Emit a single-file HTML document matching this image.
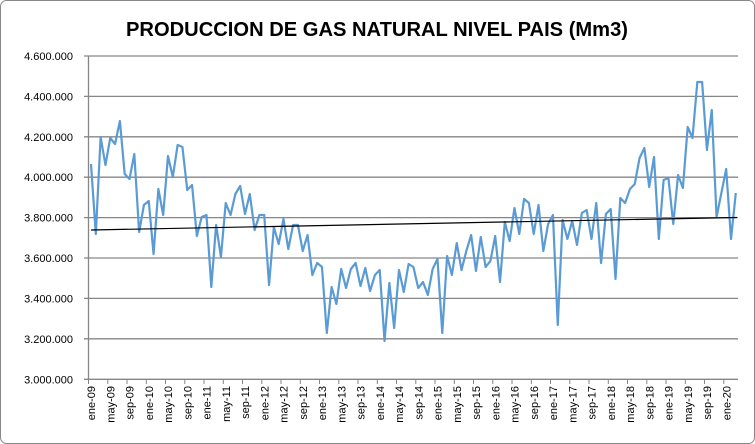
<!DOCTYPE html>
<html><head><meta charset="utf-8"><style>
html,body{margin:0;padding:0;background:#fff}
svg{display:block;font-family:"Liberation Sans",sans-serif}
</style></head><body>
<svg width="755" height="444" viewBox="0 0 755 444" xmlns="http://www.w3.org/2000/svg">
<rect x="0.5" y="0.5" width="754" height="443" rx="6" fill="#fff" stroke="#888"/>
<text x="377" y="36" text-anchor="middle" font-size="20" font-weight="bold" textLength="502" lengthAdjust="spacingAndGlyphs">PRODUCCION DE GAS NATURAL NIVEL PAIS (Mm3)</text>
<g stroke="#868686" stroke-width="1.3">
<line x1="84" y1="56" x2="738" y2="56"/><line x1="84" y1="96.4" x2="738" y2="96.4"/>
<line x1="84" y1="136.8" x2="738" y2="136.8"/><line x1="84" y1="177.2" x2="738" y2="177.2"/>
<line x1="84" y1="217.6" x2="738" y2="217.6"/><line x1="84" y1="258" x2="738" y2="258"/>
<line x1="84" y1="298.4" x2="738" y2="298.4"/><line x1="84" y1="338.8" x2="738" y2="338.8"/>
<line x1="84" y1="379.3" x2="738" y2="379.3"/>
<line x1="88.5" y1="56" x2="88.5" y2="379.3"/>
</g>
<g font-size="11" text-anchor="end" fill="#000">
<text x="73" y="60">4.600.000</text><text x="73" y="100.4">4.400.000</text>
<text x="73" y="140.8">4.200.000</text><text x="73" y="181.2">4.000.000</text>
<text x="73" y="221.6">3.800.000</text><text x="73" y="262">3.600.000</text>
<text x="73" y="302.4">3.400.000</text><text x="73" y="342.8">3.200.000</text>
<text x="73" y="383.3">3.000.000</text>
</g>
<g stroke="#868686" stroke-width="1">
<path d="M88.5 379v5M107.8 379v5M127 379v5M146.3 379v5M165.5 379v5M184.8 379v5M204 379v5M223.3 379v5M242.5 379v5M261.8 379v5M281 379v5M300.3 379v5M319.5 379v5M338.8 379v5M358 379v5M377.3 379v5M396.5 379v5M415.8 379v5M435 379v5M454.3 379v5M473.5 379v5M492.8 379v5M512 379v5M531.3 379v5M550.5 379v5M569.8 379v5M589 379v5M608.3 379v5M627.5 379v5M646.8 379v5M666 379v5M685.3 379v5M704.5 379v5M723.8 379v5"/>
</g>
<g font-size="11" text-anchor="end">
<text transform="translate(95,386) rotate(-90)">ene-09</text>
<text transform="translate(114.3,386) rotate(-90)">may-09</text>
<text transform="translate(133.5,386) rotate(-90)">sep-09</text>
<text transform="translate(152.8,386) rotate(-90)">ene-10</text>
<text transform="translate(172,386) rotate(-90)">may-10</text>
<text transform="translate(191.3,386) rotate(-90)">sep-10</text>
<text transform="translate(210.5,386) rotate(-90)">ene-11</text>
<text transform="translate(229.8,386) rotate(-90)">may-11</text>
<text transform="translate(249,386) rotate(-90)">sep-11</text>
<text transform="translate(268.3,386) rotate(-90)">ene-12</text>
<text transform="translate(287.5,386) rotate(-90)">may-12</text>
<text transform="translate(306.8,386) rotate(-90)">sep-12</text>
<text transform="translate(326,386) rotate(-90)">ene-13</text>
<text transform="translate(345.3,386) rotate(-90)">may-13</text>
<text transform="translate(364.5,386) rotate(-90)">sep-13</text>
<text transform="translate(383.8,386) rotate(-90)">ene-14</text>
<text transform="translate(403,386) rotate(-90)">may-14</text>
<text transform="translate(422.3,386) rotate(-90)">sep-14</text>
<text transform="translate(441.5,386) rotate(-90)">ene-15</text>
<text transform="translate(460.8,386) rotate(-90)">may-15</text>
<text transform="translate(480,386) rotate(-90)">sep-15</text>
<text transform="translate(499.3,386) rotate(-90)">ene-16</text>
<text transform="translate(518.5,386) rotate(-90)">may-16</text>
<text transform="translate(537.8,386) rotate(-90)">sep-16</text>
<text transform="translate(557,386) rotate(-90)">ene-17</text>
<text transform="translate(576.3,386) rotate(-90)">may-17</text>
<text transform="translate(595.5,386) rotate(-90)">sep-17</text>
<text transform="translate(614.8,386) rotate(-90)">ene-18</text>
<text transform="translate(634,386) rotate(-90)">may-18</text>
<text transform="translate(653.3,386) rotate(-90)">sep-18</text>
<text transform="translate(672.5,386) rotate(-90)">ene-19</text>
<text transform="translate(691.8,386) rotate(-90)">may-19</text>
<text transform="translate(711,386) rotate(-90)">sep-19</text>
<text transform="translate(730.3,386) rotate(-90)">ene-20</text>
</g>
<polyline transform="translate(91,0) scale(4.812,1)" vector-effect="non-scaling-stroke" fill="none" stroke="#5B9BD5" stroke-width="2.2" stroke-linejoin="round" points="0,164 1,234 2,137 3,165 4,138 5,144 6,121 7,174 8,179 9,154 10,232 11,205 12,201 13,254 14,189 15,215 16,156 17,177 18,145 19,147 20,190 21,185 22,236 23,217 24,215 25,287 26,225 27,257 28,203 29,215 30,194 31,186 32,214 33,194 34,230 35,215 36,215 37,285 38,227 39,244 40,219 41,249 42,225 43,225 44,251 45,235 46,275 47,263 48,267 49,333 50,287 51,304 52,269 53,288 54,269 55,263 56,286 57,268 58,291 59,275 60,270 61,341 62,283 63,328 64,270 65,292 66,264 67,267 68,288 69,282 70,295 71,269 72,259 73,333 74,256 75,275 76,243 77,270 78,251 79,235 80,271 81,237 82,267 83,261 84,236 85,282 86,222 87,241 88,208 89,234 90,199 91,203 92,234 93,205 94,251 95,224 96,215 97,325 98,220 99,239 100,221 101,245 102,213 103,210 104,239 105,203 106,263 107,214 108,209 109,279 110,198 111,203 112,189 113,184 114,158 115,148 116,187 117,157 118,239 119,180 120,178 121,224 122,175 123,188 124,127 125,138 126,82 127,82 128,150 129,110 130,217 131,193 132,169 133,239 134,193"/>
<line x1="91" y1="230" x2="737" y2="217.5" stroke="#000" stroke-width="1.2"/>
</svg>
</body></html>
